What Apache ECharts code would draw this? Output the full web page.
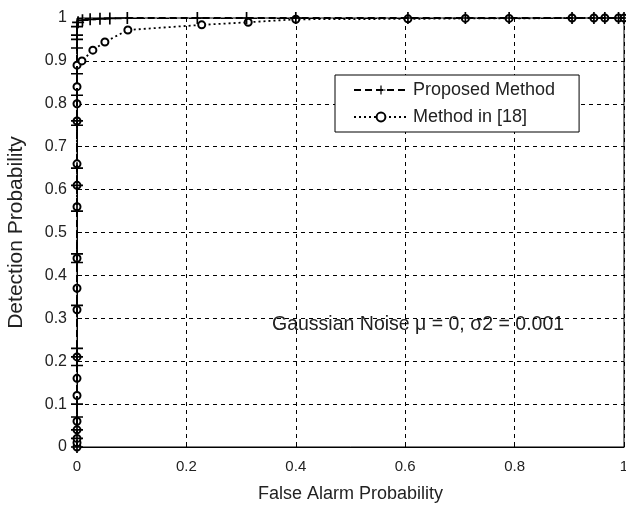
<!DOCTYPE html>
<html>
<head>
<meta charset="utf-8">
<script src="https://cdn.jsdelivr.net/npm/echarts@6/dist/echarts.min.js"></script>
<style>
  html, body { margin: 0; padding: 0; background: #fff; }
  #chart { width: 626px; height: 505px; }
</style>
</head>
<body>
<div id="chart"></div>
<script>
  // Proposed Method (dashed, + markers)
  const proposedX = [0, 0, 0, 0, 0, 0, 0, 0, 0, 0, 0, 0, 0, 0, 0, 0, 0, 0, 0, 0, 0, 0,
    0.002, 0.01, 0.024, 0.042, 0.06, 0.092, 0.22, 0.31, 0.40, 0.605, 0.71, 0.79, 0.905, 0.945, 0.965, 0.99, 1];
  const proposedY = [0, 0.02, 0.04, 0.07, 0.1, 0.19, 0.21, 0.23, 0.33, 0.43, 0.45, 0.55, 0.61, 0.65, 0.75, 0.76, 0.82, 0.87, 0.93, 0.95, 0.96, 0.98,
    0.99, 0.995, 0.997, 0.998, 0.999, 1, 1, 1, 1, 1, 1, 1, 1, 1, 1, 1, 1];

  // Method in [18] (dotted, o markers)
  const refX = [0, 0, 0, 0, 0, 0, 0, 0, 0, 0, 0, 0, 0, 0, 0, 0, 0, 0,
    0.009, 0.029, 0.051, 0.093, 0.228, 0.313, 0.40, 0.605, 0.71, 0.79, 0.905, 0.945, 0.965, 0.99, 1];
  const refY = [0, 0.01, 0.02, 0.04, 0.06, 0.12, 0.16, 0.21, 0.32, 0.37, 0.44, 0.56, 0.61, 0.66, 0.76, 0.80, 0.84, 0.89,
    0.90, 0.925, 0.944, 0.972, 0.984, 0.99, 0.997, 0.998, 0.999, 0.999, 1, 1, 1, 1, 1];

  const xTicks = [0, 0.2, 0.4, 0.6, 0.8, 1];
  const yTicks = [0, 0.1, 0.2, 0.3, 0.4, 0.5, 0.6, 0.7, 0.8, 0.9, 1];

  const font = 'Liberation Sans, Arial, sans-serif';
  const plus = 'path://M4.3,0H5.7V4.3H10V5.7H5.7V10H4.3V5.7H0V4.3H4.3Z';

  const pairs = (xs, ys) => xs.map((x, i) => [x, ys[i]]);
  const fmt = v => String(+v.toFixed(1));

  const myChart = echarts.init(document.getElementById('chart'));
  myChart.setOption({
    animation: false,
    backgroundColor: '#fff',
    grid: {
      left: 77, right: 2, top: 18, bottom: 58,
      outerBoundsMode: 'none',
      containLabel: false,
      show: true, borderColor: '#000', borderWidth: 1
    },
    xAxis: {
      type: 'value', min: 0, max: 1, interval: 0.2,
      name: 'False Alarm Probability',
      nameLocation: 'middle', nameGap: 38,
      nameTextStyle: { fontFamily: font, fontSize: 18, color: '#222' },
      axisLabel: {
        fontFamily: font, fontSize: 15, color: '#222', margin: 12,
        formatter: v => xTicks.includes(+v.toFixed(1)) ? fmt(v) : ''
      },
      axisLine: { show: true, lineStyle: { color: '#000', width: 1 } },
      axisTick: { show: true, inside: true, length: 5, lineStyle: { color: '#000' } },
      splitLine: { show: true, lineStyle: { color: '#000', type: [4, 4], width: 1 } }
    },
    yAxis: {
      type: 'value', min: 0, max: 1, interval: 0.1,
      name: 'Detection Probability',
      nameLocation: 'middle', nameGap: 50,
      nameTextStyle: { fontFamily: font, fontSize: 21, color: '#222' },
      axisLabel: {
        fontFamily: font, fontSize: 16, color: '#222', margin: 10,
        formatter: v => yTicks.includes(+v.toFixed(1)) ? fmt(v) : ''
      },
      axisLine: { show: true, lineStyle: { color: '#000', width: 1 } },
      axisTick: { show: true, inside: true, length: 5, lineStyle: { color: '#000' } },
      splitLine: { show: true, lineStyle: { color: '#000', type: [4, 4], width: 1 } }
    },
    legend: {
      left: 335, top: 75,
      orient: 'vertical',
      backgroundColor: '#fff',
      borderColor: '#000', borderWidth: 1,
      padding: [6, 24, 6, 18],
      itemGap: 9,
      itemWidth: 54, itemHeight: 11,
      textStyle: { fontFamily: font, fontSize: 18, color: '#222' },
      data: ['Proposed Method', 'Method in [18]']
    },
    graphic: [{
      type: 'text', left: 272, top: 315,
      style: {
        text: 'Gaussian Noise \u03bc = 0, \u03c32 = 0.001',
        font: '19.5px ' + font, fill: '#222'
      }
    }],
    series: [
      {
        name: 'Method in [18]',
        type: 'line',
        data: pairs(refX, refY),
        symbol: 'emptyCircle', symbolSize: 7,
        showAllSymbol: true,
        lineStyle: { color: '#000', width: 1.8, type: [2, 3] },
        itemStyle: { color: '#000', borderColor: '#000', borderWidth: 2 },
        z: 3
      },
      {
        name: 'Proposed Method',
        type: 'line',
        data: pairs(proposedX, proposedY),
        symbol: plus, symbolSize: 12,
        showAllSymbol: true,
        lineStyle: { color: '#000', width: 2, type: [7, 4] },
        itemStyle: { color: '#000' },
        z: 4
      }
    ]
  });

  window.addEventListener('resize', () => {
    myChart && myChart.resize();
  });
</script>
</body>
</html>
